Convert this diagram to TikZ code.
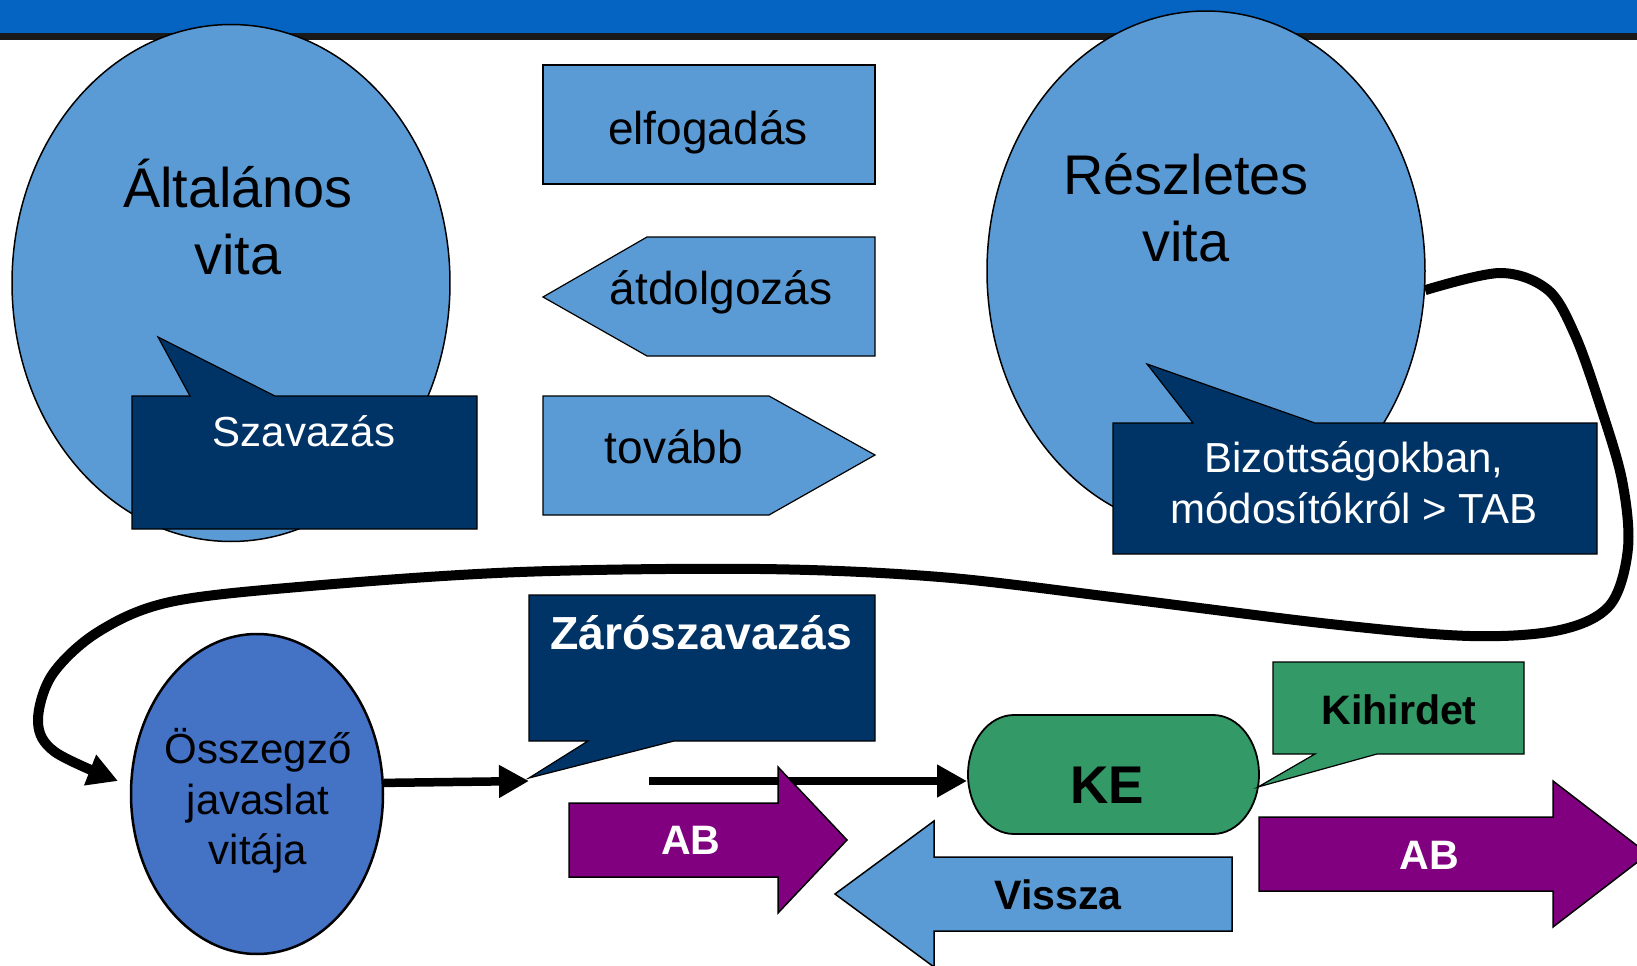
\documentclass[tikz,border=0pt]{standalone}
\usepackage{fontspec}
\setmainfont{Liberation Sans}
\usetikzlibrary{shapes.geometric,arrows.meta}
\definecolor{topblue}{HTML}{0563C1}
\definecolor{lblue}{HTML}{5B9BD5}
\definecolor{mblue}{HTML}{4472C4}
\definecolor{navy}{HTML}{003366}
\definecolor{kegreen}{HTML}{339966}
\definecolor{abpurple}{HTML}{800080}
\tikzset{
 lbox/.style={fill=lblue,draw=black,line width=0.12mm},
 navybox/.style={fill=navy,draw=black,line width=0.12mm},
 greenbox/.style={fill=kegreen,draw=black,line width=0.18mm},
 abarrow/.style={fill=abpurple,draw=black,line width=0.15mm},
 bubble/.style={ellipse,fill=lblue,draw=black,line width=0.15mm,inner sep=0pt},
 bigtxt/.style={align=center,font=\fontsize{15.9}{19.1}\selectfont},
 midtxt/.style={font=\fontsize{13.1}{15.7}\selectfont},
 smltxt/.style={align=center,font=\fontsize{11.95}{14.4}\selectfont},
 boldtxt/.style={font=\fontsize{11.7}{14}\selectfont\bfseries},
 flow/.style={line width=0.85mm,-{Triangle[length=3mm,width=3.1mm]}},
 loopback/.style={line width=1mm,-{Triangle[length=3mm,width=3.1mm]}}
}
\begin{document}
\begin{tikzpicture}[x=0.1mm,y=-0.1mm]
\useasboundingbox (0,0) rectangle (1637,966);
\clip (0,0) rectangle (1637,966);
% header
\fill[topblue](0,0) rectangle (1637,33);
\fill[black!90](0,33) rectangle (1637,40);
% altalanos vita
\node[bubble,minimum width=43.8mm,minimum height=51.7mm] (alt) at (231,283) {};
\node[bigtxt] (alttxt) at (238,217) {Általános\\vita};
\draw[navybox](132,396)--(190,396)--(158,337)--(275,396)--(477,396)--(477,529)--(132,529)--cycle;
\node[smltxt,white] (szavazas) at (304,431) {Szavazás};
% choices
\draw[lbox](543,65) rectangle (875,184);
\node[midtxt] (elfog) at (708,132) {elfogadás};
\draw[lbox](543,297)--(647,237)--(875,237)--(875,356)--(647,356)--cycle;
\node[midtxt] (atdolg) at (721,292) {átdolgozás};
\draw[lbox](543,396)--(769,396)--(875,455)--(769,515)--(543,515)--cycle;
\node[midtxt] (tovabb) at (674,447) {tovább};
% reszletes vita
\node[bubble,minimum width=43.8mm,minimum height=52mm] (resz) at (1206,271) {};
\node[bigtxt] (resztxt) at (1186,208) {Részletes\\vita};
\draw[navybox](1113,423)--(1193,423)--(1147,364)--(1315,423)--(1597,423)--(1597,554)--(1113,554)--cycle;
\node[smltxt,white,font=\fontsize{11.95}{14.5}\selectfont] (bizott) at (1354,483) {Bizottságokban,\\módosítókról > TAB};
% osszegzo javaslat
\node[ellipse,fill=mblue,draw=black,line width=0.25mm,inner sep=0pt,minimum width=25.2mm,minimum height=32mm] (osz) at (257,794) {};
\node[smltxt] (osztxt) at (258,801) {Összegző\\javaslat\\vitája};
\coordinate (oszin) at (118,781);
\draw[loopback] plot[smooth,tension=0.55] coordinates {(resz.-5) (1500,273) (1548,290) (1575,335) (1600,405) (1622,480) (1628,548) (1610,605) (1560,630) (1470,636) (1330,624) (1120,598) (940,577) (760,569) (520,572) (310,586) (170,602) (98,632) (52,675) (38,722) (55,752) (oszin)};
% zaroszavazas
\draw[navybox](529,595)--(875,595)--(875,741)--(674,741)--(529,778)--(588,741)--(529,741)--cycle;
\node[white,font=\fontsize{13.2}{16}\selectfont\bfseries] (zaro) at (701,633) {Zárószavazás};
\coordinate (zarotip) at (529,781);
\draw[flow] (osz.5) -- (zarotip);
\coordinate (kestart) at (649,781);
\coordinate (kein) at (967,781);
\draw[flow] (kestart) -- (kein);
% KE
\draw[greenbox](1014,715)--(1213,715) arc[start angle=-90,end angle=0,x radius=46,y radius=59.5] arc[start angle=0,end angle=90,x radius=46,y radius=59.5]--(1014,834) arc[start angle=90,end angle=180,x radius=46,y radius=59.5] arc[start angle=180,end angle=270,x radius=46,y radius=59.5]--cycle;
\node[font=\fontsize{15.1}{18}\selectfont\bfseries] (ke) at (1107,785) {KE};
\draw[greenbox,line width=0.12mm](1273,662)--(1524,662)--(1524,754)--(1377,754)--(1258,787)--(1315,754)--(1273,754)--cycle;
\node[boldtxt] (kihirdet) at (1399,710) {Kihirdet};
% arrows
\draw[abarrow](569,803)--(778,803)--(778,767)--(847,840)--(778,913)--(778,877)--(569,877)--cycle;
\node[boldtxt,white] (ab1) at (691,840) {AB};
\draw[abarrow](1259,817)--(1553,817)--(1553,781)--(1648,854)--(1553,927)--(1553,891)--(1259,891)--cycle;
\node[boldtxt,white] (ab2) at (1429,855) {AB};
\draw[lbox,line width=0.15mm](1232,857)--(934,857)--(934,821)--(835,894)--(934,967)--(934,931)--(1232,931)--cycle;
\node[boldtxt] (vissza) at (1058,895) {Vissza};
\end{tikzpicture}
\end{document}
